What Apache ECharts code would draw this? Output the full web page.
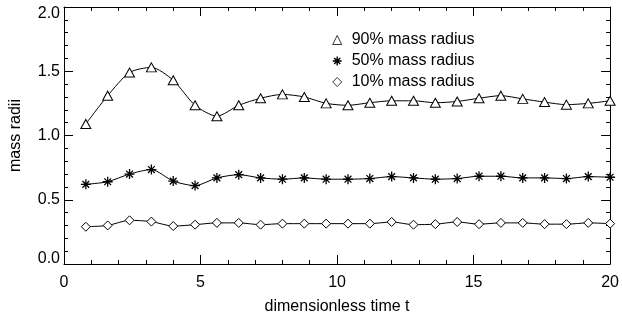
<!DOCTYPE html>
<html>
<head>
<meta charset="utf-8">
<script src="https://cdn.jsdelivr.net/npm/echarts@6/dist/echarts.min.js"></script>
<style>
html,body{margin:0;padding:0;background:#fff;}
#c{width:622px;height:320px;}
</style>
</head>
<body>
<div id="c"></div>
<script>
const times = [0.8,1.6,2.4,3.2,4.0,4.8,5.6,6.4,7.2,8.0,8.8,9.6,10.4,11.2,12.0,12.8,13.6,14.4,15.2,16.0,16.8,17.6,18.4,19.2,20.0];
const r90 = [1.09,1.31,1.49,1.53,1.43,1.235,1.15,1.235,1.29,1.32,1.30,1.25,1.235,1.255,1.27,1.27,1.255,1.265,1.29,1.31,1.285,1.26,1.24,1.25,1.27];
const r50 = [0.62,0.64,0.70,0.735,0.645,0.61,0.67,0.695,0.67,0.66,0.67,0.66,0.66,0.665,0.68,0.67,0.66,0.665,0.683,0.683,0.67,0.67,0.665,0.68,0.675];
const r10 = [0.29,0.30,0.34,0.33,0.295,0.306,0.32,0.32,0.306,0.314,0.314,0.314,0.314,0.314,0.327,0.306,0.31,0.327,0.31,0.32,0.32,0.31,0.31,0.32,0.314];
const seriesNames = ['90% mass radius','50% mass radius','10% mass radius'];
const xTitle = 'dimensionless time t';
const yTitle = 'mass radii';

const FONT = 'Liberation Sans';
const asterisk = 'path://M5,0L5,10M0,5L10,5M1.6,1.6L8.4,8.4M1.6,8.4L8.4,1.6';
const pair = (arr) => times.map((t,i)=>[t,arr[i]]);

function axisCommon(){
  return {
    axisLine:{show:true,onZero:false,lineStyle:{color:'#000',width:1}},
    axisTick:{show:true,inside:true,length:9,lineStyle:{color:'#000',width:1}},
    minorTick:{show:true,splitNumber:5,length:4,lineStyle:{color:'#000',width:1}},
    splitLine:{show:false},
    minorSplitLine:{show:false}
  };
}

const chart = echarts.init(document.getElementById('c'));
chart.setOption({
  animation:false,
  backgroundColor:'#fff',
  grid:{left:64,right:9,top:7,bottom:54,containLabel:false},
  legend:{
    orient:'vertical',left:327,top:27,itemWidth:9,itemHeight:9,itemGap:5,
    itemStyle:{borderWidth:0.8},
    textStyle:{fontFamily:FONT,fontSize:16,color:'#000',lineHeight:16,padding:[0,0,0,5]},
    data:[{name:seriesNames[0],icon:'triangle'},
          {name:seriesNames[1],icon:asterisk,itemStyle:{borderWidth:1.4}},
          {name:seriesNames[2],icon:'diamond'}]
  },
  xAxis:[
    Object.assign(axisCommon(),{type:'value',min:0,max:20,interval:5,position:'bottom',
      name:xTitle,nameLocation:'middle',nameGap:35,
      nameTextStyle:{fontFamily:FONT,fontSize:16,color:'#000'},
      axisLabel:{fontFamily:FONT,fontSize:16,color:'#000',margin:11}}),
    Object.assign(axisCommon(),{type:'value',min:0,max:20,interval:5,position:'top',axisLabel:{show:false}})
  ],
  yAxis:[
    Object.assign(axisCommon(),{type:'value',min:0,max:2,interval:0.5,position:'left',
      name:yTitle,nameLocation:'middle',nameGap:40,
      nameTextStyle:{fontFamily:FONT,fontSize:16,color:'#000'},
      axisLabel:{fontFamily:FONT,fontSize:16,color:'#000',margin:4,
        formatter:function(v){
          const s=v.toFixed(1);
          if(v===2) return '{t|'+s+'}';
          if(v===0) return '{b|'+s+'}';
          return s;
        },
        rich:{t:{fontFamily:FONT,fontSize:16,color:'#000',padding:[14,0,0,0]},
              b:{fontFamily:FONT,fontSize:16,color:'#000',padding:[0,0,10,0]}}
      }}),
    Object.assign(axisCommon(),{type:'value',min:0,max:2,interval:0.5,position:'right',axisLabel:{show:false}})
  ],
  series:[
    {name:seriesNames[0],type:'line',data:pair(r90),smooth:0.25,symbol:'triangle',symbolSize:[10,9],
      lineStyle:{color:'#000',width:1},itemStyle:{color:'#fff',borderColor:'#000',borderWidth:1}},
    {name:seriesNames[1],type:'line',data:pair(r50),smooth:0.25,symbol:asterisk,symbolSize:10,
      lineStyle:{color:'#000',width:1},itemStyle:{color:'#000',borderColor:'#000',borderWidth:1.3}},
    {name:seriesNames[2],type:'line',data:pair(r10),smooth:0.25,symbol:'diamond',symbolSize:9,
      lineStyle:{color:'#000',width:1},itemStyle:{color:'#fff',borderColor:'#000',borderWidth:1}}
  ]
});
</script>
</body>
</html>
